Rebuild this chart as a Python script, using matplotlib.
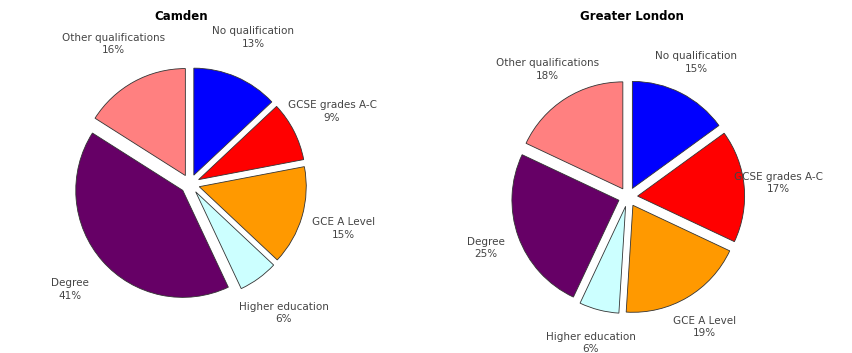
import matplotlib.pyplot as plt

# ------------------------------------------------------------
# Data: highest qualification, share of residents (%)
# ------------------------------------------------------------
categories = ['No qualification', 'GCSE grades A-C', 'GCE A Level',
              'Higher education', 'Degree', 'Other qualifications']
camden = [13, 9, 15, 6, 41, 16]
london = [15, 17, 19, 6, 25, 18]

colors = ['#0000FF', '#FF0000', '#FF9900', '#CCFFFF', '#660066', '#FF8080']

W, H = 853, 353
fig = plt.figure(figsize=(W / 100, H / 100), dpi=100)


def pie_axes(cx, cy, r):
    # axes in pixels around a pie centre, data limits -1.6..1.6
    s = 3.2 * r
    return fig.add_axes([(cx - s / 2) / W, (H - cy - s / 2) / H, s / W, s / H])


def draw(ax, values, title, tx, ty, dist):
    labels = [f'{c}\n{v}%' for c, v in zip(categories, values)]
    ax.pie(values, labels=labels, colors=colors, startangle=90,
           counterclock=False, explode=[0.09] * len(values),
           labeldistance=dist,
           wedgeprops=dict(edgecolor='#333333', linewidth=0.6),
           textprops=dict(fontsize=7.5, color='#444444', ha='center',
                          va='center', linespacing=1.3))
    ax.set_xlim(-1.6, 1.6)
    ax.set_ylim(-1.6, 1.6)
    ax.set_aspect('equal')
    ax.axis('off')
    fig.text(tx / W, 1 - ty / H, title, fontsize=8.5, fontweight='bold',
             ha='center', va='center')


draw(pie_axes(190, 184, 107), camden, 'Camden', 181, 16, 1.4)
draw(pie_axes(628, 197, 107), london, 'Greater London', 632, 17, 1.32)

plt.savefig('out.png', dpi=100)
